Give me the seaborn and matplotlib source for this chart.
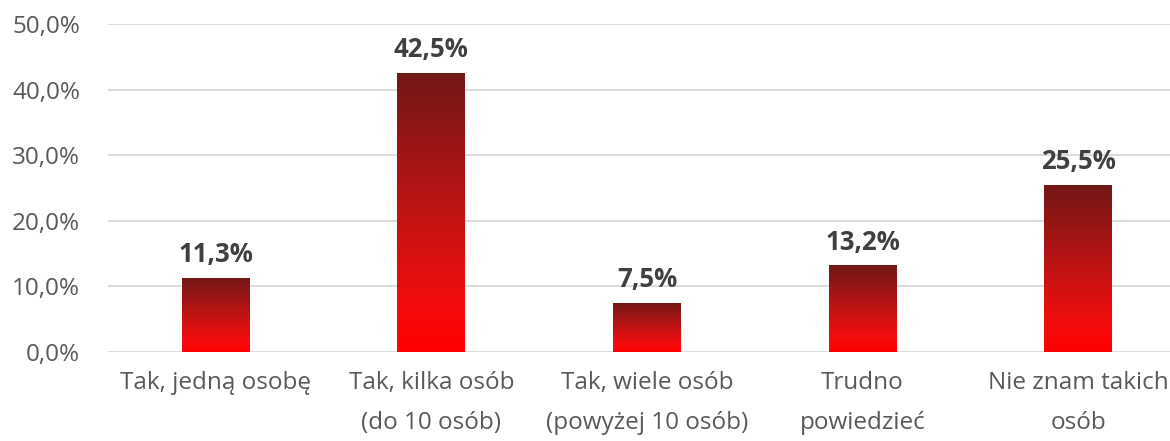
import matplotlib
matplotlib.use("Agg")
import matplotlib.pyplot as plt
import seaborn as sns
import pandas as pd
import numpy as np
from matplotlib.colors import LinearSegmentedColormap

categories = ["Tak, jedną osobę", "Tak, kilka osób\n(do 10 osób)", "Tak, wiele osób\n(powyżej 10 osób)",
              "Trudno\npowiedzieć", "Nie znam takich\nosób"]
values = [11.3, 42.5, 7.5, 13.2, 25.5]
yticks = [0, 10, 20, 30, 40, 50]

df = pd.DataFrame({"kat": categories, "proc": values})

sns.set_style("white")
plt.rcParams['font.family'] = ['Open Sans', 'DejaVu Sans']

fig = plt.figure(figsize=(11.7, 4.41), dpi=100)
ax = fig.add_axes([108 / 1170, 1 - 352 / 441, 1 - 108 / 1170, (352 - 24) / 441])

sns.barplot(data=df, x="kat", y="proc", ax=ax, width=0.315, color="red", saturation=1)

# gradient fill (red at bottom -> dark red at top)
cmap = LinearSegmentedColormap.from_list("grad", [(0, "#ff0000"), (0.18, "#f20d0d"), (0.55, "#b81414"), (1, "#711816")])
grad = np.linspace(0, 1, 256).reshape(-1, 1)
for p in ax.patches:
    x0, y0 = p.get_x(), p.get_y()
    w, h = p.get_width(), p.get_height()
    p.set_facecolor("none")
    p.set_edgecolor("none")
    im = ax.imshow(grad, extent=[x0, x0 + w, y0, y0 + h], origin="lower", cmap=cmap,
                   aspect="auto", zorder=3, interpolation="bilinear")
    im.set_clip_path(p)
    ax.annotate(f"{h:.1f}%".replace(".", ","), (x0 + w / 2, h), xytext=(0, 7),
                textcoords="offset points", ha="center", va="bottom",
                fontsize=18.5, fontweight="bold", color="#404040", zorder=4)

ax.set_xlim(-0.5, 4.426)
ax.set_ylim(0, 50)
ax.set_yticks(yticks)
ax.set_yticklabels([f"{t:.1f}%".replace(".", ",") for t in yticks])
ax.yaxis.grid(True, color="#d9d9d9", linewidth=1.3, zorder=0)
ax.set_axisbelow(True)
ax.set_xlabel("")
ax.set_ylabel("")
for s in ax.spines.values():
    s.set_visible(False)
ax.tick_params(axis="both", length=0, labelsize=17.5, colors="#595959")
ax.tick_params(axis="x", pad=14)
ax.tick_params(axis="y", pad=20)
for lbl in ax.get_xticklabels():
    lbl.set_linespacing(1.85)

fig.savefig("out.png", dpi=100)
